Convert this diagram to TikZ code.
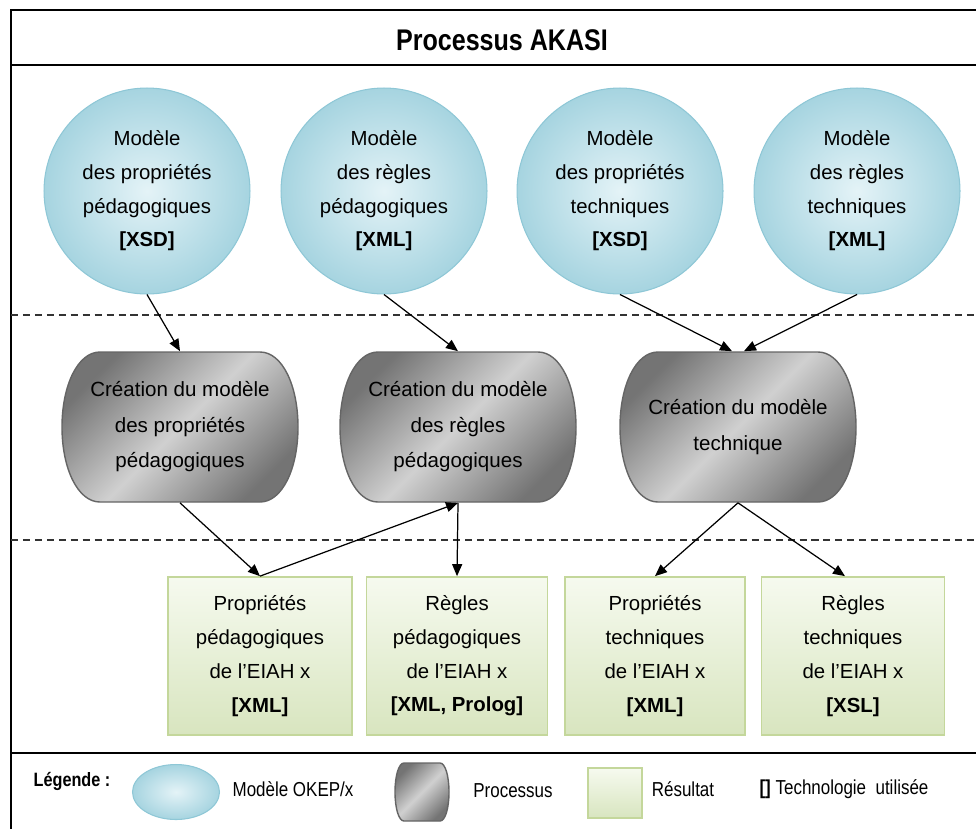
\documentclass[tikz,border=0pt]{standalone}
\usepackage{fontspec}
\setmainfont{Liberation Sans}
\newfontfamily\narrowfont[FakeStretch=0.84]{Liberation Sans}
\usetikzlibrary{arrows.meta,shapes.geometric}
\definecolor{modelin}{HTML}{E4F3F7}
\definecolor{modelout}{HTML}{A6D4E0}
\definecolor{modelline}{HTML}{8EC7D6}
\definecolor{procdark}{HTML}{747474}
\definecolor{proclight}{HTML}{D0D0D0}
\definecolor{procline}{HTML}{656565}
\definecolor{restop}{HTML}{F6FAEF}
\definecolor{resbot}{HTML}{D8E5BF}
\definecolor{resline}{HTML}{C4D79B}
\newcommand\boxfont{\fontsize{11.6}{19.2}\selectfont}
\newcommand\procfont{\fontsize{11.7}{20.2}\selectfont}
\newcommand\legfont{\narrowfont\fontsize{11.5}{13}\selectfont}

\begin{document}
\begin{tikzpicture}[x=0.02cm, y=-0.02cm,
  frame/.style={line width=1.6pt, black},
  sep/.style={line width=0.7pt, black!80, dash pattern=on 4pt off 2.8pt},
  arrow/.style={-{Triangle[length=0.24cm,width=0.2cm]}, line width=0.7pt},
  model/.style={circle, draw=modelline, line width=0.6pt, inner color=modelin,
    outer color=modelout, inner sep=0pt, align=center, font=\boxfont},
  pics/procshape/.style n args={3}{code={
    \shade[draw=procline, line width=0.8pt, top color=procdark,
      bottom color=procdark, middle color=proclight, shading angle=45]
      (-#3,-#2) -- (#3,-#2)
      .. controls ({#3+0.58*(#1-#3)},-#2) and (#1,{-0.56*#2}) .. (#1,0)
      .. controls (#1,{0.56*#2}) and ({#3+0.58*(#1-#3)},#2) .. (#3,#2)
      -- (-#3,#2)
      .. controls ({-#3-0.58*(#1-#3)},#2) and (-#1,{0.56*#2}) .. (-#1,0)
      .. controls (-#1,{-0.56*#2}) and ({-#3-0.58*(#1-#3)},-#2) .. (-#3,-#2)
      -- cycle;}},
  procbox/.style={inner sep=0pt, align=center, minimum width=4.72cm,
    minimum height=3.02cm, font=\procfont},
  resbox/.style={draw=resline, line width=1pt, top color=restop, bottom color=resbot,
    inner sep=0pt, align=center},
  legtext/.style={font=\legfont}]
  \useasboundingbox (0,0) rectangle (976,829);
  % Frame and separators
  \draw[frame] (976,10) -- (11,10) -- (11,829);
  \draw[frame] (11,65) -- (976,65);
  \draw[frame] (11,753) -- (976,753);
  \draw[sep] (11,315) -- (976,315);
  \draw[sep] (11,540) -- (976,540);
  \node[font=\narrowfont\bfseries\fontsize{17}{20}\selectfont] (title) at (502,40) {Processus AKASI};
  % Models
  \node[model, minimum size=4.12cm] (m1) at (147,191) {Modèle\\des propriétés\\pédagogiques\\\textbf{[XSD]}};
  \node[model, minimum size=4.12cm] (m2) at (384,191) {Modèle\\des règles\\pédagogiques\\\textbf{[XML]}};
  \node[model, minimum size=4.12cm] (m3) at (620,191) {Modèle\\des propriétés\\techniques\\\textbf{[XSD]}};
  \node[model, minimum size=4.12cm] (m4) at (857,191) {Modèle\\des règles\\techniques\\\textbf{[XML]}};
  % Processes
  \pic at (180,427) {procshape={118}{75}{80}};
  \pic at (458,427) {procshape={118}{75}{80}};
  \pic at (738,427) {procshape={118}{75}{80}};
  \node[procbox] (p1) at (180,427) {Création du modèle\\des propriétés\\pédagogiques};
  \node[procbox] (p2) at (458,427) {Création du modèle\\des règles\\pédagogiques};
  \node[procbox] (p3) at (738,427) {Création du modèle\\technique};
  % Results
  \node[resbox, minimum width=3.68cm, minimum height=3.16cm, font=\boxfont] (r1) at (260,656) {Propriétés\\pédagogiques\\de l’EIAH x\\\textbf{[XML]}};
  \node[resbox, minimum width=3.62cm, minimum height=3.16cm, font=\boxfont] (r2) at (457,656) {Règles\\pédagogiques\\de l’EIAH x\\\textbf{[XML, Prolog]}};
  \node[resbox, minimum width=3.6cm, minimum height=3.16cm, font=\boxfont] (r3) at (655,656) {Propriétés\\techniques\\de l’EIAH x\\\textbf{[XML]}};
  \node[resbox, minimum width=3.66cm, minimum height=3.16cm, font=\boxfont] (r4) at (853,656) {Règles\\techniques\\de l’EIAH x\\\textbf{[XSL]}};
  % Arrows
  \draw[arrow] (m1.south) -- (p1.north);
  \draw[arrow] (m2.south) -- (p2.north);
  \draw[arrow] (m3.south) -- ([xshift=-0.12cm]p3.north);
  \draw[arrow] (m4.south) -- ([xshift=0.12cm]p3.north);
  \draw[arrow] (p1.south) -- (r1.north);
  \draw[arrow] (r1.north) -- (p2.south);
  \draw[arrow] (p2.south) -- (r2.north);
  \draw[arrow] (p3.south) -- (r3.north);
  \draw[arrow] (p3.south) -- ([xshift=-0.16cm]r4.north);
  % Legend
  \node[font=\narrowfont\bfseries\fontsize{11}{13}\selectfont] (leglabel) at (72,781) {Légende :};
  \node[ellipse, draw=modelline, line width=0.6pt, inner color=modelin, outer color=modelout,
    minimum width=1.74cm, minimum height=1.1cm] (legmod) at (176,792) {};
  \node[legtext] (legmodtext) at (293,789) {Modèle OKEP/x};
  \pic at (422,792) {procshape={27}{29}{18}};
  \node[legtext] (legproctext) at (513,791) {Processus};
  \node[resbox, minimum width=1.08cm, minimum height=1cm] (legres) at (615,793) {};
  \node[legtext] (legrestext) at (683,789) {Résultat};
  \node[legtext] (legtech) at (844,789) {\textbf{[]} Technologie\ \ utilisée};
\end{tikzpicture}
\end{document}
